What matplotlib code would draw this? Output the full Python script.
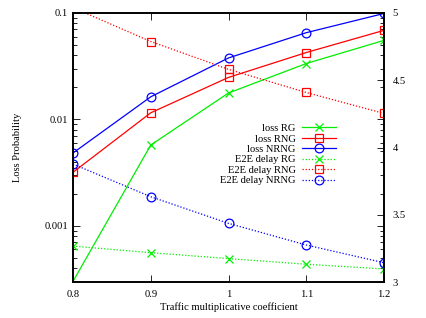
import matplotlib
matplotlib.use("Agg")
import matplotlib.pyplot as plt
from matplotlib.ticker import LogLocator, FixedLocator, NullFormatter, MultipleLocator, FuncFormatter

plt.rcParams['font.family'] = ['Liberation Serif', 'DejaVu Serif']

x = [0.8, 0.9, 1.0, 1.1, 1.2]
x_labels = ['0.8', '0.9', '1', '1.1', '1.2']

loss_rg = [0.0003, 0.00574, 0.0177, 0.0335, 0.0553]
loss_rng = [0.00318, 0.01153, 0.0248, 0.0425, 0.0687]
loss_nrng = [0.00483, 0.0163, 0.0378, 0.0653, 0.099]

delay_rg = [3.267, 3.218, 3.174, 3.132, 3.097]
delay_rng = [5.04, 4.788, 4.581, 4.409, 4.253]
delay_nrng = [3.877, 3.634, 3.436, 3.275, 3.143]

GREEN = '#00ee00'
RED = '#ff0000'
BLUE = '#0000ff'
FS = 7.6
MS = 6.3

fig = plt.figure(figsize=(4.26, 3.18), dpi=100)
ax = fig.add_axes([73/426, 1-282/318, 311/426, 269/318])
ax2 = ax.twinx()

lw = 0.9
h1, = ax.plot(x, loss_rg, color=GREEN, lw=lw, marker='x', ms=MS, mew=0.9,
              markevery=[1, 2, 3, 4], label='loss RG')
h2, = ax.plot(x, loss_rng, color=RED, lw=lw, marker='s', ms=MS, mfc='none', mew=0.9,
              label='loss RNG')
h3, = ax.plot(x, loss_nrng, color=BLUE, lw=lw, marker='o', ms=MS, mfc='none', mew=0.9,
              label='loss NRNG')
h4, = ax2.plot(x, delay_rg, color=GREEN, lw=lw, ls=(0, (1, 1.5)), marker='x', ms=MS, mew=0.9,
               label='E2E delay RG')
h5, = ax2.plot(x, delay_rng, color=RED, lw=lw, ls=(0, (1, 1.5)), marker='s', ms=MS, mfc='none',
               mew=0.9, label='E2E delay RNG')
h6, = ax2.plot(x, delay_nrng, color=BLUE, lw=lw, ls=(0, (1, 1.5)), marker='o', ms=MS, mfc='none',
               mew=0.9, label='E2E delay NRNG')

ax.set_yscale('log')
ax.set_ylim(0.000296, 0.1)
ax.set_xlim(0.8, 1.2)
ax.set_xticks(x)
ax.set_xticklabels(x_labels)
ax.yaxis.set_major_locator(FixedLocator([0.001, 0.01, 0.1]))
ax.set_yticklabels(['0.001', '0.01', '0.1'])
ax.yaxis.set_minor_locator(LogLocator(base=10, subs=range(2, 10)))
ax.yaxis.set_minor_formatter(NullFormatter())
ax.tick_params(axis='both', which='both', direction='in', labelsize=FS, top=True, right=True)
ax.tick_params(axis='y', which='major', length=5, width=0.6)
ax.tick_params(axis='y', which='minor', length=3, width=0.6)
ax.tick_params(axis='x', which='major', length=5, width=0.6, pad=6)

ax2.set_ylim(3, 5)
ax2.yaxis.set_major_locator(MultipleLocator(0.5))
ax2.yaxis.set_major_formatter(FuncFormatter(lambda v, p: ('%g' % v)))
ax2.tick_params(axis='y', which='major', direction='in', length=5, width=0.6, labelsize=FS, pad=6)

for a in (ax, ax2):
    for s in a.spines.values():
        s.set_linewidth(1.2)

ax.set_xlabel('Traffic multiplicative coefficient', fontsize=FS, labelpad=2)
ax.set_ylabel('Loss Probability', fontsize=FS, labelpad=16)
ax2.set_ylabel('E2E delay (ms)', fontsize=FS, labelpad=20)

ax2.legend(handles=[h1, h2, h3, h4, h5, h6], loc='upper right',
           bbox_to_anchor=(0.865, 0.612), frameon=False, fontsize=FS,
           markerfirst=False, handlelength=3.2, handletextpad=0.6,
           labelspacing=0.1, borderpad=0.1)

fig.savefig('out.png', dpi=100)
